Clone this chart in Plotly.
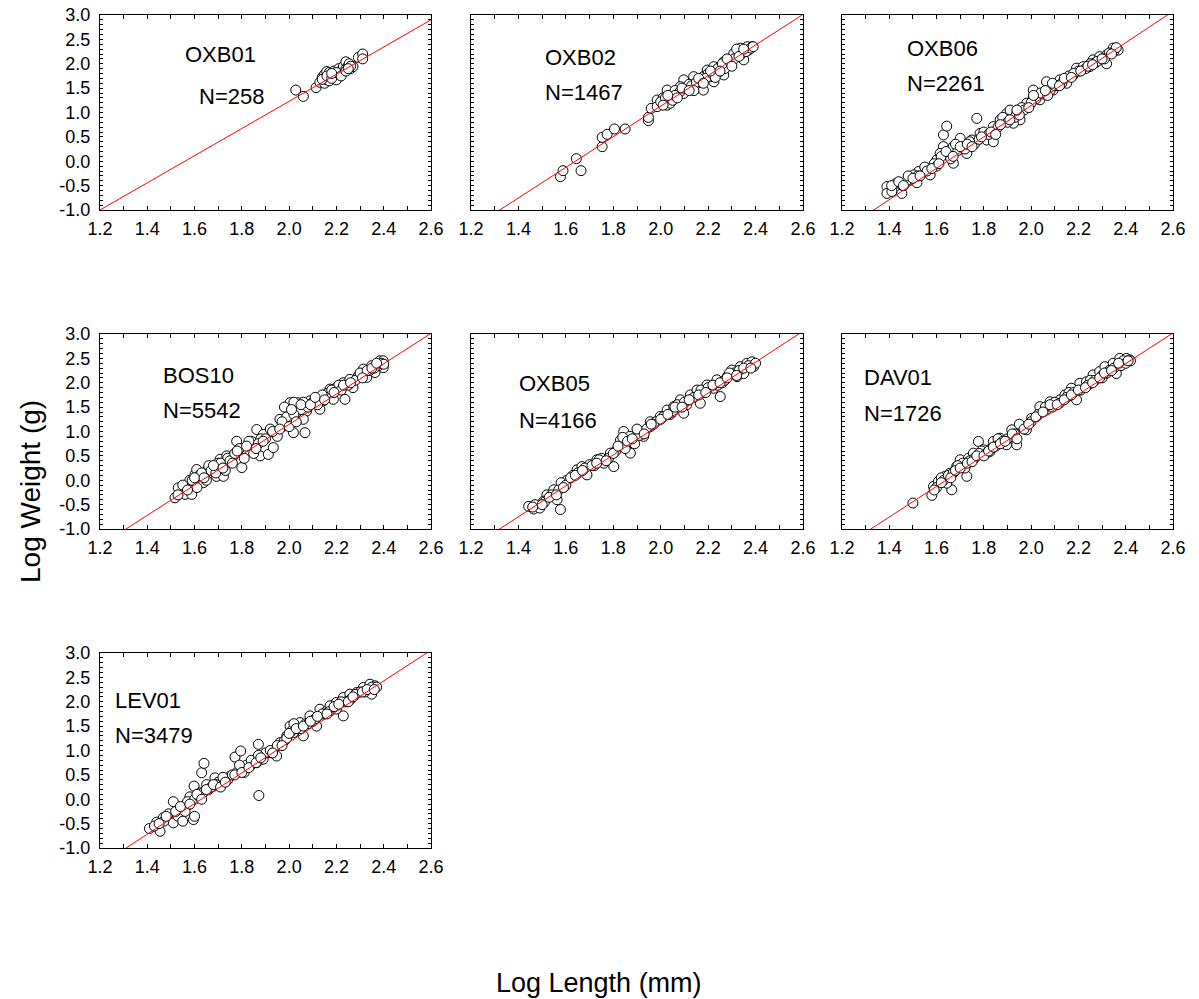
import plotly.graph_objects as go

# ---------------- data ----------------
names = ["OXB01", "OXB02", "OXB06", "BOS10", "OXB05", "DAV01", "LEV01"]
counts = [258, 1467, 2261, 5542, 4166, 1726, 3479]
fit_slope = [2.786, 3.137, 3.22, 3.11, 3.172, 3.147, 3.145]
fit_intercept = [-4.343, -5.144, -5.296, -5.074, -5.19, -5.16, -5.12]

oxb01_x = [2.028, 2.06, 2.114, 2.13, 2.14, 2.15, 2.15, 2.159, 2.16, 2.17, 2.17, 2.18, 2.187, 2.19, 2.2,
           2.2, 2.21, 2.215, 2.22, 2.229, 2.23, 2.24, 2.24, 2.25, 2.254, 2.26, 2.27, 2.293, 2.311, 2.311,
           2.14, 2.16, 2.18, 2.2, 2.22, 2.24, 2.26, 2.18, 2.25]
oxb01_y = [1.46, 1.33, 1.51, 1.62, 1.72, 1.6, 1.78, 1.84, 1.67, 1.82, 1.65, 1.75, 1.84, 1.85, 1.72,
           1.67, 1.9, 1.84, 1.8, 1.9, 1.95, 2.04, 1.9, 1.95, 2.0, 1.9, 1.94, 2.13, 2.2, 2.1,
           1.68, 1.75, 1.7, 1.82, 1.75, 1.85, 1.95, 1.8, 1.9]

oxb02_x = [1.577, 1.588, 1.644, 1.664, 1.753, 1.753, 1.774, 1.805, 1.85, 1.948, 1.948, 1.96, 1.985, 2.0,
           2.027, 2.04, 2.027, 2.07, 2.097, 2.11, 2.125, 2.153, 2.153, 2.18, 2.196, 2.224, 2.224, 2.238,
           2.266, 2.266, 2.294, 2.294, 2.322, 2.322, 2.35, 2.365, 2.386, 2.35, 2.097, 2.18, 1.985, 2.04,
           2.083, 2.139, 2.21, 2.252, 2.308, 2.336, 2.01, 2.06, 2.12, 2.17, 2.2, 2.25, 2.28, 2.33, 2.37,
           2.0, 2.02, 2.05, 2.08, 2.13, 2.15, 2.19, 2.22, 2.24, 2.27, 2.29, 2.31, 2.34, 2.36, 2.38,
           2.26, 2.32, 2.23, 2.14, 2.06, 2.01, 2.03, 2.07, 2.09, 2.12, 2.16, 2.18, 2.21, 2.25, 2.28,
           2.3, 2.33, 2.35, 2.39]
oxb02_y = [-0.316, -0.193, 0.053, -0.193, 0.299, 0.49, 0.552, 0.662, 0.662, 0.833, 0.9, 1.085, 1.256, 1.19,
           1.46, 1.32, 1.15, 1.39, 1.39, 1.5, 1.6, 1.67, 1.5, 1.735, 1.87, 1.94, 1.63, 1.8,
           2.04, 1.77, 2.0, 2.11, 2.28, 2.145, 2.21, 2.35, 2.35, 2.08, 1.67, 1.46, 1.12, 1.19,
           1.53, 1.735, 1.735, 1.94, 2.21, 2.32, 1.3, 1.45, 1.58, 1.62, 1.8, 1.85, 1.95, 2.25, 2.28,
           1.22, 1.3, 1.25, 1.42, 1.55, 1.62, 1.7, 1.78, 1.9, 1.9, 2.05, 2.1, 2.2, 2.25, 2.32,
           2.0, 2.3, 1.72, 1.45, 1.35, 1.15, 1.35, 1.3, 1.5, 1.45, 1.7, 1.6, 1.85, 1.85, 2.1,
           1.95, 2.15, 2.3, 2.35]

oxb06_x = [1.39, 1.39, 1.411, 1.453, 1.453, 1.488, 1.517, 1.524, 1.573, 1.573, 1.601, 1.629, 1.629, 1.643,
           1.657, 1.671, 1.7, 1.728, 1.749, 1.77, 1.784, 1.812, 1.84, 1.84, 1.869, 1.897, 1.911, 1.939,
           1.953, 1.981, 2.009, 2.009, 2.037, 2.065, 2.093, 2.122, 2.15, 2.178, 2.192, 2.22, 2.248, 2.262,
           2.29, 2.319, 2.347, 2.368, 2.319, 1.671, 1.503, 1.615, 1.714, 1.925, 2.05, 1.47, 1.55, 1.59,
           1.65, 1.69, 1.76, 1.8, 1.88, 1.96, 2.02, 2.08, 2.11, 2.2, 2.27, 2.33,
           1.43, 1.48, 1.52, 1.56, 1.6, 1.62, 1.66, 1.68, 1.72, 1.74, 1.78, 1.82, 1.86, 1.9, 1.93,
           1.97, 2.0, 2.04, 2.07, 2.1, 2.13, 2.16, 2.18, 2.23, 2.25, 2.28, 2.31, 2.35, 2.36, 1.95,
           1.41, 1.44, 1.46, 1.5, 1.53, 1.58, 1.61, 1.64, 1.67, 1.7, 1.73, 1.75, 1.79, 1.83, 1.85,
           1.87, 1.91, 1.94, 1.99, 2.01, 2.06, 2.09, 2.12, 2.14, 2.17, 2.21, 2.24, 2.26, 2.3, 2.34]
oxb06_y = [-0.52, -0.66, -0.62, -0.66, -0.49, -0.385, -0.44, -0.21, -0.145, -0.28, 0.026, 0.3, 0.54, 0.72,
           0.23, -0.04, 0.47, 0.16, 0.436, 0.88, 0.57, 0.436, 0.4, 0.71, 0.85, 0.98, 1.05, 0.98,
           0.85, 1.19, 1.325, 1.46, 1.26, 1.63, 1.46, 1.67, 1.6, 1.77, 1.91, 1.94, 1.94, 2.08,
           2.145, 2.18, 2.32, 2.28, 2.0, 0.3, -0.28, 0.16, 0.3, 0.78, 1.38, -0.42, -0.12, -0.05,
           0.12, 0.22, 0.35, 0.6, 0.9, 1.1, 1.28, 1.45, 1.55, 1.85, 2.02, 2.22,
           -0.45, -0.3, -0.3, -0.2, -0.1, 0.1, 0.05, 0.35, 0.25, 0.4, 0.45, 0.55, 0.7, 0.8, 0.9,
           1.05, 1.2, 1.4, 1.35, 1.55, 1.6, 1.75, 1.8, 1.9, 2.0, 2.05, 2.1, 2.25, 2.33, 0.95,
           -0.5, -0.42, -0.5, -0.35, -0.3, -0.15, -0.05, 0.2, 0.1, 0.3, 0.35, 0.3, 0.5, 0.6, 0.55,
           0.75, 0.85, 1.05, 1.1, 1.35, 1.45, 1.6, 1.55, 1.7, 1.72, 1.85, 1.95, 1.98, 2.1, 2.2]

bos10_x = [1.517, 1.531, 1.56, 1.588, 1.602, 1.609, 1.637, 1.651, 1.679, 1.693, 1.722, 1.708, 1.736, 1.764,
           1.778, 1.8, 1.82, 1.849, 1.863, 1.877, 1.891, 1.912, 1.933, 1.94, 1.961, 1.975, 2.004, 2.018,
           2.032, 2.039, 2.067, 2.074, 2.088, 2.116, 2.13, 2.145, 2.173, 2.187, 2.2, 2.236, 2.229, 2.257,
           2.27, 2.293, 2.314, 2.328, 2.349, 2.363, 2.384, 2.398, 2.377, 2.398, 1.58, 1.62, 1.66, 1.7,
           1.74, 1.79, 1.84, 1.88, 1.92, 1.99, 2.05, 2.1, 2.16, 2.21, 2.28, 2.34, 2.39,
           1.55, 1.59, 1.61, 1.63, 1.65, 1.67, 1.69, 1.71, 1.73, 1.75, 1.77, 1.81, 1.83, 1.85, 1.87,
           1.9, 1.95, 1.97, 2.0, 2.02, 2.06, 2.08, 2.12, 2.14, 2.18, 2.22, 2.25, 2.3, 2.33, 2.36,
           2.4, 2.02, 1.98, 2.06,
           1.53, 1.57, 1.6, 1.64, 1.68, 1.72, 1.76, 1.78, 1.82, 1.86, 1.89, 1.93, 1.96, 2.01, 2.03,
           2.05, 2.09, 2.11, 2.15, 2.19, 2.23, 2.26, 2.31, 2.35, 2.37]
bos10_y = [-0.36, -0.156, -0.29, -0.29, 0.12, 0.22, -0.05, 0.19, 0.29, 0.08, 0.08, 0.43, 0.5, 0.5,
           0.8, 0.26, 0.6, 0.7, 1.04, 0.5, 0.94, 0.53, 0.67, 0.976, 1.25, 1.11, 1.59, 0.976,
           1.39, 1.59, 0.976, 1.42, 1.63, 1.66, 1.456, 1.63, 1.87, 1.66, 1.9, 1.66, 2.0, 2.07,
           1.9, 2.14, 2.28, 2.11, 2.35, 2.21, 2.45, 2.31, 2.35, 2.45, 0.0, 0.1, 0.3, 0.35,
           0.45, 0.65, 0.8, 0.85, 1.05, 1.3, 1.45, 1.6, 1.78, 1.95, 2.05, 2.25, 2.4,
           -0.1, 0.0, -0.15, 0.15, 0.0, 0.2, 0.15, 0.35, 0.2, 0.4, 0.55, 0.45, 0.8, 0.55, 0.75,
           0.85, 0.9, 1.2, 1.1, 1.35, 1.25, 1.5, 1.55, 1.75, 1.85, 1.85, 1.95, 2.2, 2.25, 2.3,
           2.38, 1.6, 1.5, 1.6,
           -0.3, -0.2, 0.05, 0.05, 0.3, 0.25, 0.35, 0.6, 0.7, 0.65, 0.8, 1.0, 1.05, 1.45, 1.2,
           1.55, 1.55, 1.7, 1.65, 1.8, 1.95, 2.0, 2.1, 2.3, 2.4]

oxb05_x = [1.443, 1.464, 1.49, 1.52, 1.549, 1.577, 1.563, 1.605, 1.647, 1.668, 1.689, 1.731, 1.76, 1.802,
           1.788, 1.83, 1.844, 1.872, 1.879, 1.9, 1.928, 1.956, 1.956, 1.998, 2.027, 2.055, 2.083, 2.097,
           2.125, 2.153, 2.167, 2.195, 2.223, 2.237, 2.251, 2.28, 2.3, 2.322, 2.336, 2.364, 2.385, 2.392,
           2.35, 1.506, 1.58, 1.63, 1.7, 1.75, 1.86, 1.92, 1.98, 2.04, 2.11, 2.18, 2.26, 2.31,
           1.47, 1.51, 1.54, 1.57, 1.6, 1.62, 1.65, 1.68, 1.72, 1.74, 1.78, 1.81, 1.83, 1.85, 1.87,
           1.89, 1.91, 1.94, 1.97, 2.01, 2.05, 2.07, 2.1, 2.14, 2.17, 2.2, 2.24, 2.27, 2.29, 2.33,
           2.37, 2.4,
           1.46, 1.5, 1.53, 1.56, 1.59, 1.64, 1.67, 1.71, 1.73, 1.77, 1.8, 1.82, 1.84, 1.86, 1.88,
           1.9, 1.93, 1.96, 2.0, 2.03, 2.06, 2.09, 2.12, 2.16, 2.19, 2.22, 2.25, 2.28, 2.32, 2.35, 2.38]
oxb05_y = [-0.536, -0.59, -0.57, -0.3, -0.195, -0.6, -0.4, 0.0, 0.215, 0.28, 0.11, 0.42, 0.35, 0.28,
           0.556, 0.69, 1.0, 0.556, 0.83, 0.966, 0.9, 1.1, 1.2, 1.307, 1.44, 1.51, 1.65, 1.375,
           1.75, 1.85, 1.58, 1.955, 1.887, 2.06, 1.717, 2.126, 2.26, 2.126, 2.33, 2.4, 2.43, 2.33,
           2.19, -0.43, -0.05, 0.1, 0.32, 0.45, 0.75, 0.95, 1.2, 1.35, 1.55, 1.8, 2.0, 2.2,
           -0.5, -0.45, -0.3, -0.2, -0.1, 0.05, 0.15, 0.25, 0.3, 0.42, 0.45, 0.6, 0.82, 0.65, 0.9,
           0.75, 0.92, 1.05, 1.15, 1.3, 1.4, 1.55, 1.6, 1.7, 1.85, 1.9, 1.95, 2.05, 2.2, 2.25,
           2.35, 2.4,
           -0.55, -0.5, -0.35, -0.3, -0.15, 0.1, 0.2, 0.3, 0.35, 0.4, 0.55, 0.7, 0.88, 0.8, 0.85,
           1.05, 0.95, 1.15, 1.25, 1.35, 1.5, 1.5, 1.65, 1.75, 1.8, 1.95, 2.0, 2.1, 2.15, 2.3, 2.3]

dav01_x = [1.5, 1.58, 1.587, 1.608, 1.636, 1.664, 1.657, 1.685, 1.7, 1.728, 1.735, 1.756, 1.777, 1.798,
           1.826, 1.84, 1.868, 1.896, 1.918, 1.939, 1.96, 1.98, 2.002, 2.037, 2.065, 2.08, 2.122, 2.143,
           2.17, 2.192, 2.206, 2.234, 2.262, 2.29, 2.312, 2.333, 2.347, 2.375, 2.403, 2.417, 2.36, 1.643,
           2.023, 1.62, 1.71, 1.79, 1.86, 1.95, 2.1, 2.16, 2.25, 2.3, 2.39,
           1.6, 1.63, 1.65, 1.67, 1.69, 1.72, 1.74, 1.76, 1.78, 1.81, 1.83, 1.85, 1.88, 1.9, 1.93,
           1.97, 2.0, 2.03, 2.06, 2.09, 2.12, 2.15, 2.18, 2.21, 2.24, 2.27, 2.3, 2.32, 2.35, 2.38,
           2.42, 2.4,
           1.59, 1.62, 1.66, 1.68, 1.7, 1.73, 1.75, 1.77, 1.8, 1.82, 1.84, 1.87, 1.89, 1.92, 1.94,
           1.99, 2.02, 2.05, 2.08, 2.11, 2.14, 2.17, 2.2, 2.23, 2.26, 2.29, 2.31, 2.34, 2.37, 2.41]
dav01_y = [-0.468, -0.31, -0.126, -0.024, 0.08, -0.195, 0.147, 0.283, 0.42, 0.08, 0.454, 0.556, 0.795, 0.625,
           0.59, 0.795, 0.863, 0.727, 1.034, 0.727, 1.1, 1.034, 1.27, 1.51, 1.44, 1.61, 1.65, 1.75,
           1.887, 1.65, 1.99, 2.02, 2.16, 2.23, 2.33, 2.26, 2.4, 2.5, 2.5, 2.47, 2.19, -0.06,
           1.31, 0.05, 0.35, 0.6, 0.85, 1.15, 1.6, 1.8, 2.05, 2.15, 2.45,
           -0.15, 0.0, 0.1, 0.15, 0.3, 0.25, 0.4, 0.45, 0.55, 0.55, 0.65, 0.7, 0.8, 0.85, 0.95,
           1.05, 1.2, 1.35, 1.5, 1.5, 1.58, 1.7, 1.8, 1.85, 1.95, 2.05, 2.1, 2.2, 2.3, 2.35,
           2.45, 2.4,
           -0.2, -0.05, 0.05, 0.2, 0.25, 0.35, 0.38, 0.5, 0.5, 0.6, 0.68, 0.75, 0.8, 0.95, 0.85,
           1.15, 1.3, 1.4, 1.55, 1.55, 1.65, 1.75, 1.85, 1.9, 2.0, 2.1, 2.2, 2.25, 2.4, 2.45]

lev01_x = [1.409, 1.454, 1.44, 1.468, 1.51, 1.51, 1.531, 1.567, 1.595, 1.598, 1.623, 1.63, 1.64, 1.651,
           1.68, 1.686, 1.722, 1.75, 1.771, 1.778, 1.795, 1.8, 1.835, 1.863, 1.872, 1.87, 1.89, 1.919,
           1.947, 1.961, 1.99, 2.004, 2.018, 2.046, 2.06, 2.088, 2.116, 2.13, 2.159, 2.173, 2.2, 2.229,
           2.229, 2.257, 2.286, 2.314, 2.342, 2.349, 2.363, 1.55, 1.58, 1.66, 1.7, 1.74, 1.82, 1.9,
           1.98, 2.03, 2.07, 2.1, 2.15, 2.24, 2.3,
           1.43, 1.47, 1.49, 1.53, 1.56, 1.57, 1.6, 1.62, 1.64, 1.67, 1.69, 1.72, 1.76, 1.79, 1.81,
           1.84, 1.87, 1.92, 1.95, 1.99, 2.01, 2.02, 2.05, 2.08, 2.11, 2.14, 2.17, 2.2, 2.22, 2.26,
           2.28, 2.32, 2.35, 2.37, 1.55, 1.6,
           1.45, 1.48, 1.52, 1.54, 1.58, 1.61, 1.63, 1.65, 1.68, 1.71, 1.73, 1.77, 1.8, 1.83, 1.86,
           1.88, 1.93, 1.97, 2.0, 2.03, 2.06, 2.09, 2.12, 2.16, 2.19, 2.21, 2.25, 2.27, 2.31, 2.33, 2.36]
lev01_y = [-0.6, -0.657, -0.47, -0.38, -0.05, -0.485, -0.245, -0.14, -0.417, 0.27, 0.13, 0.544, 0.736, 0.3,
           0.27, 0.44, 0.34, 0.475, 0.866, 0.544, 0.99, 0.61, 0.68, 0.75, 0.077, 1.127, 0.82, 0.955,
           0.887, 1.16, 1.3, 1.5, 1.367, 1.573, 1.3, 1.71, 1.5, 1.847, 1.813, 1.916, 1.985, 1.71,
           2.087, 2.156, 2.19, 2.293, 2.36, 2.156, 2.327, -0.2, 0.05, 0.2, 0.35, 0.4, 0.7, 0.95,
           1.2, 1.45, 1.55, 1.6, 1.75, 2.0, 2.2,
           -0.55, -0.45, -0.3, -0.35, -0.25, -0.05, 0.0, 0.05, 0.15, 0.25, 0.3, 0.45, 0.5, 0.7, 0.55,
           0.8, 0.9, 1.0, 1.1, 1.25, 1.4, 1.55, 1.45, 1.55, 1.65, 1.75, 1.8, 1.85, 2.0, 2.05,
           2.15, 2.2, 2.3, 2.3, -0.45, -0.35,
           -0.5, -0.35, -0.25, -0.15, -0.1, 0.1, 0.0, 0.2, 0.3, 0.25, 0.35, 0.5, 0.55, 0.65, 0.75,
           0.85, 0.95, 1.1, 1.35, 1.45, 1.5, 1.6, 1.7, 1.75, 1.9, 1.95, 2.0, 2.1, 2.2, 2.25, 2.25]

xs = [oxb01_x, oxb02_x, oxb06_x, bos10_x, oxb05_x, dav01_x, lev01_x]
ys = [oxb01_y, oxb02_y, oxb06_y, bos10_y, oxb05_y, dav01_y, lev01_y]

x_range = [1.2, 2.6]
y_range = [-1.0, 3.0]
x_tick_vals = [round(1.2 + 0.1 * i, 1) for i in range(15)]
x_tick_text = [f"{v:.1f}" if i % 2 == 0 else "" for i, v in enumerate(x_tick_vals)]
y_tick_vals = [round(-1.0 + 0.1 * i, 1) for i in range(41)]
y_tick_text = [f"{v:.1f}" if i % 5 == 0 else "" for i, v in enumerate(y_tick_vals)]

# ---------------- layout geometry ----------------
W, H = 1199, 999
col_dom = [[100 / W, 431 / W], [471 / W, 803 / W], [842 / W, 1173 / W]]
row_dom = [[1 - 210 / H, 1 - 15 / H], [1 - 529 / H, 1 - 334 / H], [1 - 848 / H, 1 - 653 / H]]
positions = [(0, 0), (0, 1), (0, 2), (1, 0), (1, 1), (1, 2), (2, 0)]
label_px = [(183, 55, 197, 96), (543, 57, 543, 92), (905, 48, 905, 83),
            (161, 375, 161, 410), (517, 383, 517, 420), (862, 377, 862, 413),
            (113, 700, 113, 735)]

FONT = "Liberation Sans, Arial, sans-serif"
fig = go.Figure()
layout = dict(
    width=W, height=H, margin=dict(l=0, r=0, t=0, b=0, pad=0),
    paper_bgcolor="white", plot_bgcolor="white", showlegend=False,
    font=dict(family=FONT, color="black"),
)
annotations = []

for i, (r, c) in enumerate(positions):
    k = "" if i == 0 else str(i + 1)
    xa, ya = "x" + k, "y" + k
    fit_x = x_range
    fit_y = [fit_slope[i] * v + fit_intercept[i] for v in fit_x]
    fig.add_trace(go.Scatter(x=xs[i], y=ys[i], mode="markers", xaxis=xa, yaxis=ya,
                             marker=dict(symbol="circle", size=10, color="white",
                                         line=dict(color="black", width=1)),
                             hoverinfo="skip"))
    fig.add_trace(go.Scatter(x=fit_x, y=fit_y, mode="lines", xaxis=xa, yaxis=ya,
                             line=dict(color="red", width=1), hoverinfo="skip"))
    layout["xaxis" + k] = dict(domain=col_dom[c], anchor=ya, range=x_range, showgrid=False,
                               zeroline=False, showline=True, linecolor="black", linewidth=1,
                               mirror="ticks", ticks="inside", ticklen=4, tickcolor="black",
                               tickmode="array", tickvals=x_tick_vals, ticktext=x_tick_text,
                               automargin=False, ticklabelstandoff=2,
                               tickfont=dict(size=18, family=FONT, color="black"))
    layout["yaxis" + k] = dict(domain=row_dom[r], anchor=xa, range=y_range, showgrid=False,
                               zeroline=False, showline=True, linecolor="black", linewidth=1,
                               mirror="ticks", ticks="inside", ticklen=3, tickcolor="black",
                               tickmode="array", tickvals=y_tick_vals, ticktext=y_tick_text,
                               showticklabels=(c == 0), automargin=False, ticklabelstandoff=5,
                               tickfont=dict(size=18, family=FONT, color="black"))
    nx, ny, cx, cy = label_px[i]
    annotations.append(dict(x=nx / W, y=1 - ny / H, xref="paper", yref="paper", text=names[i],
                            showarrow=False, xanchor="left", yanchor="middle",
                            font=dict(size=22, family=FONT, color="black")))
    annotations.append(dict(x=cx / W, y=1 - cy / H, xref="paper", yref="paper",
                            text=f"N={counts[i]}", showarrow=False, xanchor="left",
                            yanchor="middle", font=dict(size=22, family=FONT, color="black")))

annotations.append(dict(x=599 / W, y=1 - 983 / H, xref="paper", yref="paper",
                        text="Log Length (mm)", showarrow=False, xanchor="center",
                        yanchor="middle", font=dict(size=27, family=FONT, color="black")))
annotations.append(dict(x=30 / W, y=1 - 492 / H, xref="paper", yref="paper",
                        text="Log Weight (g)", showarrow=False, textangle=-90,
                        xanchor="center", yanchor="middle",
                        font=dict(size=28, family=FONT, color="black")))
layout["annotations"] = annotations
fig.update_layout(**layout)
fig.write_html("out.html",
               post_script="document.body.style.margin='0';document.body.style.padding='0';")
